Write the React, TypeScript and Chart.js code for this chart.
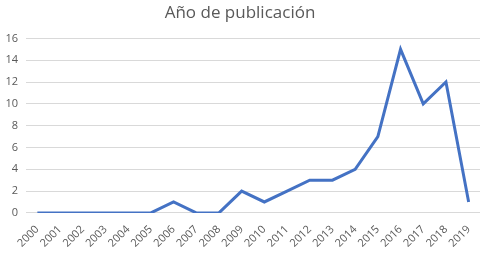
import React, { useEffect, useRef } from "react";
import { Chart, registerables } from "chart.js";

Chart.register(...registerables);

const years = ["2000","2001","2002","2003","2004","2005","2006","2007","2008","2009","2010","2011","2012","2013","2014","2015","2016","2017","2018","2019"];
const counts = [0,0,0,0,0,0,1,0,0,2,1,2,3,3,4,7,15,10,12,1];
const titleText = "Año de publicación";

export default function App() {
  const ref = useRef<HTMLCanvasElement>(null);
  useEffect(() => {
    if (!ref.current) return;
    const chart = new Chart(ref.current, {
      type: "line",
      data: {
        labels: years,
        datasets: [{
          data: counts,
          borderColor: "#4472C4",
          borderWidth: 3,
          pointRadius: 0,
          tension: 0,
          fill: false,
        }],
      },
      options: {
        animation: false,
        responsive: false,
        layout: { padding: { left: 0, right: 7, top: 3, bottom: 3 } },
        plugins: {
          legend: { display: false },
          tooltip: { enabled: false },
          title: {
            display: true,
            text: titleText,
            color: "#595959",
            font: { family: "Open Sans", size: 17, weight: "normal" },
            padding: { top: 0, bottom: 15 },
          },
        },
        scales: {
          x: {
            offset: true,
            grid: { display: false },
            border: { display: false },
            ticks: {
              color: "#595959",
              font: { family: "Open Sans", size: 11 },
              minRotation: 45,
              maxRotation: 45,
              autoSkip: false,
              padding: 2,
            },
          },
          y: {
            min: 0,
            max: 16,
            afterFit: (s: any) => { s.width = 26; },
            ticks: {
              stepSize: 2,
              color: "#595959",
              font: { family: "Open Sans", size: 11 },
              padding: 8,
            },
            grid: { color: "#d9d9d9", drawTicks: false },
            border: { display: false },
          },
        },
      },
    });
    return () => chart.destroy();
  }, []);
  return (
    <div style={{ position: "fixed", left: 0, top: 0, width: 487, height: 255, background: "#fff" }}>
      <canvas ref={ref} width={487} height={255} />
    </div>
  );
}
